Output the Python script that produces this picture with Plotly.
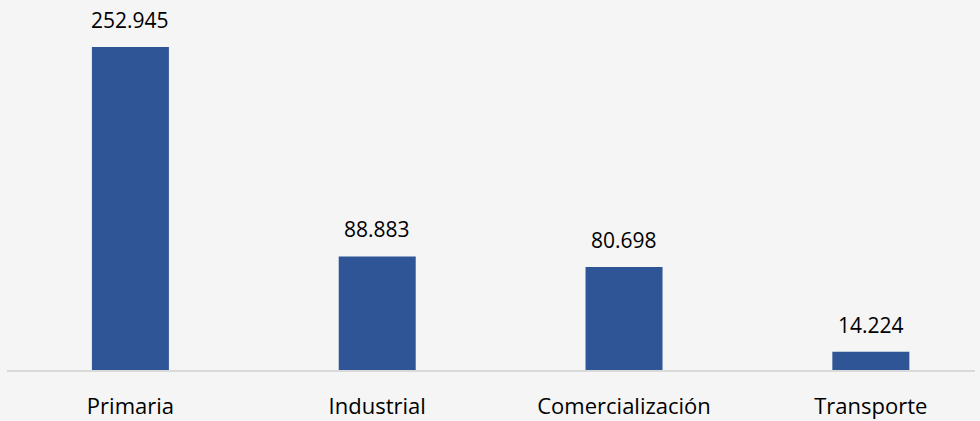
import plotly.graph_objects as go

categories = ["Primaria", "Industrial", "Comercialización", "Transporte"]
values = [252945, 88883, 80698, 14224]
labels = [f"{v:,}".replace(",", ".") for v in values]

fig = go.Figure()
fig.add_trace(go.Bar(
    x=list(range(len(categories))), y=values,
    marker=dict(color="#2F5597", line=dict(width=0)),
    width=0.312, hoverinfo="skip",
))
for i, (v, t) in enumerate(zip(values, labels)):
    fig.add_annotation(x=i, y=v, text=t, showarrow=False, yanchor="bottom",
                       yshift=11, font=dict(family="Open Sans", size=21, color="#000000"))

fig.update_layout(
    width=980, height=421,
    paper_bgcolor="#f5f5f5", plot_bgcolor="#f5f5f5",
    margin=dict(l=7, r=5, t=0, b=51),
    showlegend=False,
    font=dict(family="Open Sans", size=21, color="#000000"),
)
fig.update_xaxes(
    range=[-0.5, 3.422],
    tickmode="array", tickvals=list(range(len(categories))), ticktext=categories,
    showline=True, linecolor="#d9d9d9", linewidth=2,
    showgrid=False, zeroline=False,
    ticks="outside", ticklen=16, tickcolor="rgba(0,0,0,0)",
    tickfont=dict(family="Open Sans", size=22, color="#000000"),
)
fig.update_yaxes(range=[0, 289700], visible=False, showgrid=False, zeroline=False)

fig.write_html(
    "out.html",
    config={"displayModeBar": False},
    post_script="document.body.style.margin='0';document.body.style.overflow='hidden';document.body.style.background='#f5f5f5';",
)
